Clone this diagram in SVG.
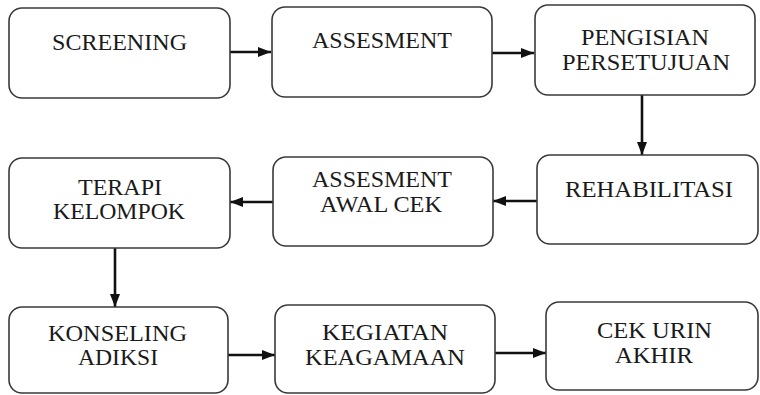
<svg xmlns="http://www.w3.org/2000/svg" width="760" height="395" viewBox="0 0 760 395">
<style>
.box{fill:#fff;stroke:#3a3a3a;stroke-width:1.6}
.t{font-family:"Liberation Serif","Times New Roman",serif;font-size:24px;fill:#1a1a1a;text-anchor:middle}
.c{stroke:#111;stroke-width:2.6;fill:none;marker-end:url(#ah)}
</style>
<defs>
<marker id="ah" markerUnits="userSpaceOnUse" markerWidth="13" markerHeight="13" viewBox="0 0 13 13" refX="13" refY="6.5" orient="auto">
<path d="M0,1.5 L13,6.5 L0,11.5 Z" fill="#111"/>
</marker>
</defs>
<rect width="760" height="395" fill="#fff"/>
<g id="connectors">
<line class="c" x1="230" y1="52" x2="271" y2="52"/>
<line class="c" x1="492" y1="53" x2="534" y2="53"/>
<line class="c" x1="642" y1="95" x2="642" y2="155"/>
<line class="c" x1="537" y1="201" x2="493" y2="201"/>
<line class="c" x1="273" y1="202" x2="230" y2="202"/>
<line class="c" x1="115" y1="248" x2="115" y2="307"/>
<line class="c" x1="228" y1="355" x2="275" y2="355"/>
<line class="c" x1="495" y1="353" x2="546" y2="353"/>
</g>
<g id="screening">
<rect class="box" x="9" y="8" width="221" height="90" rx="13"/>
<text class="t" x="119.5" y="50" textLength="135" lengthAdjust="spacingAndGlyphs">SCREENING</text>
</g>
<g id="assesment">
<rect class="box" x="272" y="7" width="220" height="90" rx="13"/>
<text class="t" x="382" y="48" textLength="140" lengthAdjust="spacingAndGlyphs">ASSESMENT</text>
</g>
<g id="pengisian">
<rect class="box" x="535" y="5" width="220" height="90" rx="13"/>
<text class="t" x="645" y="45" textLength="128" lengthAdjust="spacingAndGlyphs">PENGISIAN</text>
<text class="t" x="646" y="70" textLength="168" lengthAdjust="spacingAndGlyphs">PERSETUJUAN</text>
</g>
<g id="rehabilitasi">
<rect class="box" x="537" y="155" width="221" height="89" rx="13"/>
<text class="t" x="649" y="197" textLength="168" lengthAdjust="spacingAndGlyphs">REHABILITASI</text>
</g>
<g id="assesment-awal">
<rect class="box" x="273" y="157" width="220" height="89" rx="13"/>
<text class="t" x="382" y="187" textLength="140" lengthAdjust="spacingAndGlyphs">ASSESMENT</text>
<text class="t" x="381" y="212" textLength="122" lengthAdjust="spacingAndGlyphs">AWAL CEK</text>
</g>
<g id="terapi">
<rect class="box" x="9" y="158" width="221" height="90" rx="13"/>
<text class="t" x="120" y="195" textLength="84" lengthAdjust="spacingAndGlyphs">TERAPI</text>
<text class="t" x="119" y="219" textLength="132" lengthAdjust="spacingAndGlyphs">KELOMPOK</text>
</g>
<g id="konseling">
<rect class="box" x="9" y="307" width="219" height="86" rx="13"/>
<text class="t" x="117.5" y="341" textLength="139" lengthAdjust="spacingAndGlyphs">KONSELING</text>
<text class="t" x="118" y="365" textLength="80" lengthAdjust="spacingAndGlyphs">ADIKSI</text>
</g>
<g id="kegiatan">
<rect class="box" x="275" y="305" width="220" height="88" rx="13"/>
<text class="t" x="385" y="340" textLength="126" lengthAdjust="spacingAndGlyphs">KEGIATAN</text>
<text class="t" x="385" y="365" textLength="160" lengthAdjust="spacingAndGlyphs">KEAGAMAAN</text>
</g>
<g id="cek-urin">
<rect class="box" x="546" y="302" width="212" height="88" rx="13"/>
<text class="t" x="654.5" y="338" textLength="115" lengthAdjust="spacingAndGlyphs">CEK URIN</text>
<text class="t" x="654" y="363" textLength="78" lengthAdjust="spacingAndGlyphs">AKHIR</text>
</g>
</svg>
